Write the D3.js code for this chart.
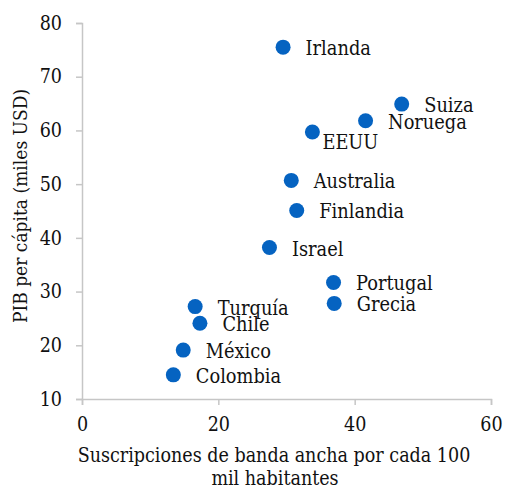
<!DOCTYPE html>
<html><head><meta charset="utf-8">
<script src="https://cdn.jsdelivr.net/npm/d3@7"></script>
<style>
body{margin:0;background:#fff;}
svg text{font-family:"DejaVu Serif Condensed","DejaVu Serif",serif;font-stretch:condensed;fill:#111;}
</style></head>
<body><svg id="c" width="505" height="489"></svg>
<script>
const countries = ["Irlanda","Suiza","Noruega","EEUU","Australia","Finlandia","Israel","Portugal","Grecia","Turquía","Chile","México","Colombia"];
const broadband = [29.5,46.9,41.6,33.8,30.7,31.5,27.5,36.9,37.0,16.6,17.3,14.85,13.4];
const gdp = [75.5,64.9,61.8,59.7,50.7,45.1,38.2,31.7,27.8,27.2,24.1,19.1,14.5];
const xTicks = [0,20,40,60];
const yTicks = [10,20,30,40,50,60,70,80];
const xTitle = ["Suscripciones de banda ancha por cada 100","mil habitantes"];
const yTitle = "PIB per cápita (miles USD)";

const svg = d3.select("#c");
const x = d3.scaleLinear().domain([0,60]).range([82,491]);
const y = d3.scaleLinear().domain([10,80]).range([399,23]);
const axisColor = "#c6c6c6";

const gx = svg.append("g").attr("transform","translate(0,399)")
  .call(d3.axisBottom(x).tickValues(xTicks).tickSize(6).tickPadding(12).tickFormat(d3.format("d")));
const gy = svg.append("g").attr("transform","translate(82,0)")
  .call(d3.axisLeft(y).tickValues(yTicks).tickSize(6).tickPadding(14).tickFormat(d3.format("d")));
[gx,gy].forEach(g=>{
  g.select(".domain").attr("stroke",axisColor).attr("stroke-width",1.5);
  g.selectAll(".tick line").attr("stroke",axisColor).attr("stroke-width",1.5);
  g.selectAll(".tick text").attr("font-size",19.5).attr("fill","#111").attr("font-family",null);
});

const pts = countries.map((c,i)=>({name:c,bx:broadband[i],gy:gdp[i]}));
svg.append("g").selectAll("circle").data(pts).join("circle")
  .attr("cx",d=>x(d.bx)).attr("cy",d=>y(d.gy)).attr("r",7.5).attr("fill","#0563c1");

const labelOffset = {"EEUU":[10,17]};
svg.append("g").selectAll("text").data(pts).join("text")
  .attr("x",d=>x(d.bx)+(labelOffset[d.name]?labelOffset[d.name][0]:22.5))
  .attr("y",d=>y(d.gy)+(labelOffset[d.name]?labelOffset[d.name][1]:8))
  .attr("font-size",19.8).text(d=>d.name);

svg.append("text").attr("x",274).attr("y",462).attr("text-anchor","middle").attr("font-size",19.5).text(xTitle[0]);
svg.append("text").attr("x",275).attr("y",485).attr("text-anchor","middle").attr("font-size",19.5).text(xTitle[1]);
svg.append("text").attr("transform","translate(27,206) rotate(-90)").attr("text-anchor","middle").attr("font-size",19).text(yTitle);
</script></body></html>
